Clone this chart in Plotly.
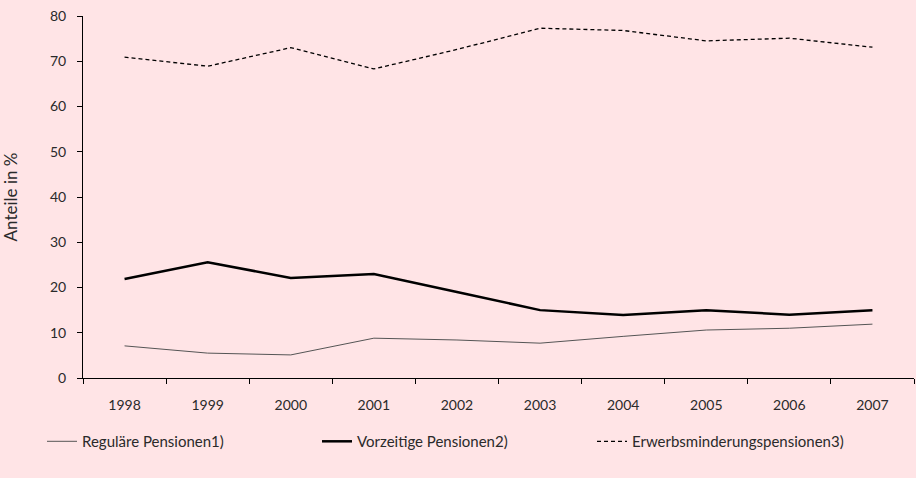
import plotly.graph_objects as go

years = ["1998", "1999", "2000", "2001", "2002", "2003", "2004", "2005", "2006", "2007"]
regulaer = [7.1, 5.5, 5.1, 8.8, 8.4, 7.7, 9.2, 10.6, 11.0, 11.9]
vorzeitig = [21.9, 25.6, 22.1, 23.0, 19.0, 15.0, 13.9, 15.0, 14.0, 15.0]
erwerb = [70.9, 68.9, 73.0, 68.3, 72.6, 77.3, 76.8, 74.5, 75.1, 73.1]

bg = "rgb(255,228,230)"
font = "Lato, 'DejaVu Sans', sans-serif"

fig = go.Figure()
fig.add_trace(go.Scatter(x=years, y=regulaer, mode="lines", name="Reguläre Pensionen1)",
                         line=dict(color="#555555", width=1)))
fig.add_trace(go.Scatter(x=years, y=vorzeitig, mode="lines", name="Vorzeitige Pensionen2)",
                         line=dict(color="black", width=2.5)))
fig.add_trace(go.Scatter(x=years, y=erwerb, mode="lines", name="Erwerbsminderungspensionen3)",
                         line=dict(color="black", width=1.3, dash="4px,3px")))

fig.update_layout(
    width=916, height=478,
    paper_bgcolor=bg, plot_bgcolor=bg,
    margin=dict(l=83, r=2, t=16, b=100),
    font=dict(family=font, size=14, color="#2a2a2a"),
    showlegend=True,
    legend=dict(orientation="h", x=(42 - 83) / 831, xanchor="left", y=-0.13, yanchor="top",
                font=dict(size=15), bgcolor="rgba(0,0,0,0)",
                entrywidth=230, entrywidthmode="pixels"),
    xaxis=dict(type="category", tickson="boundaries", ticks="outside", ticklen=5,
               tickcolor="black", showline=True, linecolor="black", linewidth=1,
               showgrid=False, zeroline=False, range=[-0.5, 9.5], ticklabelstandoff=14),
    yaxis=dict(range=[0, 80], dtick=10, ticks="outside", ticklen=5, tickcolor="black",
               showline=True, linecolor="black", linewidth=1, showgrid=False, zeroline=False,
               ticklabelstandoff=8,
               title=dict(text="Anteile in %", standoff=30)),
)

fig.write_html("out.html", config={"displayModeBar": False},
               post_script="document.body.style.margin='0';")
